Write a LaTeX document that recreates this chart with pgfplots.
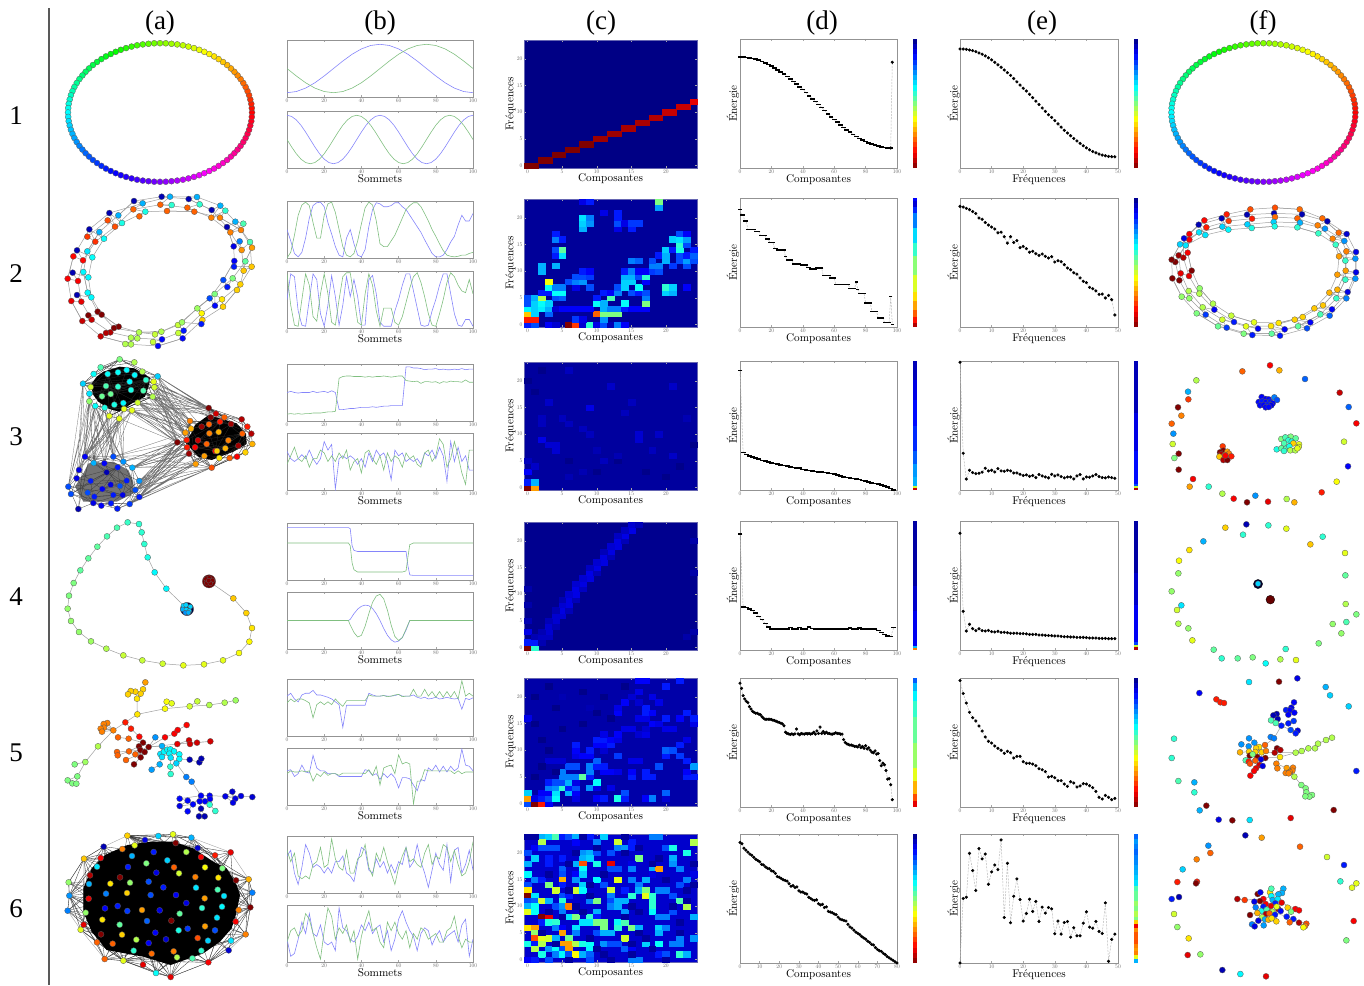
\documentclass[border=0pt]{standalone}
\usepackage{fontspec}
\usepackage{pgfplots}
\usepackage{pgfplotstable}
\pgfplotsset{compat=1.18}
\newfontfamily\tim{Liberation Serif}
\definecolor{sigb}{rgb}{.52,.52,.98}
\definecolor{sigg}{rgb}{.5,.75,.5}
\definecolor{bgA}{rgb}{0,0,.52}
\definecolor{bgB}{rgb}{0,0,.6}
\definecolor{bgC}{rgb}{0,0,.62}
\definecolor{bgD}{rgb}{0,0,.56}
\definecolor{bgE}{rgb}{0,0,.66}
\definecolor{bgF}{rgb}{0,0,.8}
\pgfplotsset{
  colormap={hue}{rgb255=(255,0,0) rgb255=(255,255,0) rgb255=(0,255,0) rgb255=(0,255,255) rgb255=(0,0,255) rgb255=(255,0,255) rgb255=(255,0,0)},
  base/.style={scale only axis,anchor=south west,axis line style={draw=gray!85,line width=.4pt},
    tick align=inside,major tick length=1pt,tick style={gray!70,line width=.15pt},
    tick label style={font=\fontsize{10}{12}\selectfont,scale=.28,text=gray!80!black,inner sep=2.5pt},
    /pgf/number format/assume math mode=true,
    label style={font=\fontsize{10}{12}\selectfont,scale=.56,inner sep=0pt}},
  pos/.style 2 args={at={({#1*0.5pt},{-#2*0.5pt})}},
  colb/.style={base,pos={287}{#1},width=93pt,height=28.5pt,xmin=0,xmax=100,ymin=0,ymax=1,
    xtick={0,20,...,100},ytick=\empty,
    xlabel style={at={(axis description cs:0.5,-0.19)},anchor=center}},
  colc/.style={base,pos={524}{#1},width=86.5pt,height=64pt,xmin=-.5,xmax=24.5,ymin=-.5,ymax=23.5,
    xtick={0,5,...,20},ytick={0,5,...,20},xlabel=Composantes,ylabel=Fréquences,
    colormap/jet,point meta min=0,point meta max=1,axis on top,
    axis line style={draw=black!50!blue!60,line width=.4pt},
    xlabel style={at={(axis description cs:0.5,-0.086)},anchor=center},
    ylabel style={at={(axis description cs:-0.078,0.5)},anchor=center}},
  cold/.style={base,pos={740}{#1},width=78.5pt,height=64.5pt,xmin=0,xmax=100,ymin=0,ymax=1,
    xtick={0,20,...,100},ytick=\empty,xlabel=Composantes,ylabel=Énergie,clip=false,
    xlabel style={at={(axis description cs:0.5,-0.093)},anchor=center},
    ylabel style={at={(axis description cs:-0.045,0.5)},anchor=center}},
  cole/.style={base,pos={960}{#1},width=79pt,height=64.5pt,xmin=0,xmax=50,ymin=0,ymax=1,
    xtick={0,10,...,50},ytick=\empty,xlabel=Fréquences,ylabel=Énergie,clip=false,
    xlabel style={at={(axis description cs:0.5,-0.093)},anchor=center},
    ylabel style={at={(axis description cs:-0.04,0.5)},anchor=center}},
  bar/.style 2 args={at={({#1*0.5pt},{-#2*0.5pt})},anchor=south west,scale only axis,hide axis,
    width=2pt,height=64.5pt,xmin=0,xmax=1,ymin=0,ymax=1,colormap/jet,point meta min=0,point meta max=1},
  % graph panels are typed in the pixel grid of a crop of the figure
  zoomax/.style n args={4}{at={({(#1+#3/2)*0.5pt},{-(#2+#4/2)*0.5pt})},anchor=center,scale only axis,hide axis,clip=false,
    width={#3*0.5pt},height={#4*0.5pt},xmin=0,xmax={#3*3},ymin=0,ymax={#4*3},y dir=reverse,
    colormap/jet,point meta min=0,point meta max=1},
  ringax/.style={at={({#1*0.5pt},-56.25pt)},anchor=center,scale only axis,hide axis,clip=false,
    width=100pt,height=75pt,xmin=-100,xmax=100,ymin=-75,ymax=75,colormap name=hue,point meta min=0,point meta max=1},
  gn/.style={scatter,only marks,mark=*,mark size=1.5pt,point meta=explicit,
    scatter/use mapped color={draw=black!65,fill=mapped color,line width=.15pt}},
  ge/.style={no markers,draw=gray!75,line width=.25pt},
  gk/.style={no markers,draw=black!75,line width=.12pt},
  cell/.style={scatter,only marks,mark=square*,mark size=1.73pt,point meta=explicit,
    mark options={yscale=.77},
    scatter/use mapped color={draw=mapped color,fill=mapped color,line width=.05pt}},
  sb/.style={no markers,draw=sigb,line width=.3pt},
  sg/.style={no markers,draw=sigg,line width=.3pt},
  sp/.style={draw=gray!55,dash pattern=on 1pt off .6pt,line width=.25pt,mark=*,mark size=.65pt,
    mark options={solid,fill=black,draw=black}},
  sq/.style={draw=gray!55,dash pattern=on 1pt off .6pt,line width=.25pt,mark=-,mark size=1.2pt,
    mark options={solid,draw=black,line width=.8pt}},
}
\newcommand\nodes[1]{\addplot[gn] table[x index=0,y index=1,meta index=2,header=false,row sep=\\]{#1};}
\newcommand\cells[1]{\addplot[cell] table[x index=0,y index=1,meta index=2,header=false,row sep=\\]{#1};}
\newcommand\edges[1]{\addplot[ge] coordinates {#1};}
\newcommand\sig[3]{\addplot[#1] table[x expr=#2*\coordindex,y index=0,header=false,row sep=\\]{#3};}
\newcommand\colbar[1]{\addplot[mesh,line width=2pt,point meta=explicit] coordinates {#1};}
% same list of points, joined again taking every k-th one: gives the dense edge bundles
\newcommand\chords[3]{\pgfplotsinvokeforeach{#1}{\addplot[gk,#2,each nth point=##1] coordinates {#3};}}
\newcommand\chtable[3]{\pgfplotsinvokeforeach{#1}{\addplot[gk,#2,each nth point=##1] table[x index=0,y index=1,header=false,row sep=\\]{#3};}}
\pgfplotstableread{
x y m
92 0 0
91.8 4.4 .01
91.3 8.7 .02
90.3 13 .03
89.1 17.3 .04
87.5 21.4 .05
85.6 25.5 .06
83.3 29.5 .07
80.6 33.4 .08
77.6 37.1 .09
74.4 40.7 .10
70.9 44.1 .11
67.1 47.5 .12
63 50.5 .13
58.6 53.4 .14
54.1 56.1 .15
49.3 58.5 .16
44.3 60.7 .17
39.2 62.7 .18
33.9 64.4 .19
28.4 65.9 .20
22.9 67.2 .21
17.2 68.1 .22
11.5 68.7 .23
5.8 69.2 .24
0 69.3 .25
-5.8 69.2 .26
-11.5 68.7 .27
-17.2 68.1 .28
-22.9 67.2 .29
-28.4 65.9 .30
-33.9 64.4 .31
-39.2 62.7 .32
-44.3 60.7 .33
-49.3 58.5 .34
-54.1 56.1 .35
-58.6 53.4 .36
-63 50.5 .37
-67.1 47.5 .38
-70.9 44.1 .39
-74.4 40.7 .40
-77.6 37.1 .41
-80.6 33.4 .42
-83.3 29.5 .43
-85.6 25.5 .44
-87.5 21.4 .45
-89.1 17.3 .46
-90.3 13 .47
-91.3 8.7 .48
-91.8 4.4 .49
-92 0 .50
-91.8 -4.4 .51
-91.3 -8.7 .52
-90.3 -13 .53
-89.1 -17.3 .54
-87.5 -21.4 .55
-85.6 -25.5 .56
-83.3 -29.5 .57
-80.6 -33.4 .58
-77.6 -37.1 .59
-74.4 -40.7 .60
-70.9 -44.1 .61
-67.1 -47.5 .62
-63 -50.5 .63
-58.6 -53.4 .64
-54.1 -56.1 .65
-49.3 -58.5 .66
-44.3 -60.7 .67
-39.2 -62.7 .68
-33.9 -64.4 .69
-28.4 -65.9 .70
-22.9 -67.2 .71
-17.2 -68.1 .72
-11.5 -68.7 .73
-5.8 -69.2 .74
0 -69.3 .75
5.8 -69.2 .76
11.5 -68.7 .77
17.2 -68.1 .78
22.9 -67.2 .79
28.4 -65.9 .80
33.9 -64.4 .81
39.2 -62.7 .82
44.3 -60.7 .83
49.3 -58.5 .84
54.1 -56.1 .85
58.6 -53.4 .86
63 -50.5 .87
67.1 -47.5 .88
70.9 -44.1 .89
74.4 -40.7 .90
77.6 -37.1 .91
80.6 -33.4 .92
83.3 -29.5 .93
85.6 -25.5 .94
87.5 -21.4 .95
89.1 -17.3 .96
90.3 -13 .97
91.3 -8.7 .98
91.8 -4.4 .99
}\ringtable
\newcommand\smoothbar{(.5,0)[1](.5,.04)[.96](.5,.08)[.92](.5,.12)[.88](.5,.16)[.84](.5,.2)[.8](.5,.24)[.76](.5,.28)[.72](.5,.32)[.68](.5,.36)[.64](.5,.4)[.6](.5,.44)[.56](.5,.48)[.52](.5,.52)[.48](.5,.56)[.44](.5,.6)[.4](.5,.64)[.36](.5,.68)[.32](.5,.72)[.28](.5,.76)[.24](.5,.8)[.2](.5,.84)[.16](.5,.88)[.12](.5,.92)[.08](.5,.96)[.04](.5,1)[0]}
\begin{document}
\begin{tikzpicture}
\useasboundingbox (0,0) rectangle (682pt,-492.5pt);
\draw[black!65,line width=.6pt] (24.5pt,-4pt) -- (24.5pt,-492.5pt);
\foreach \t/\x in {(a)/160,(b)/380,(c)/601,(d)/822,(e)/1042,(f)/1263}
  \node[font=\tim\fontsize{13.5}{14}\selectfont,anchor=center] at ({\x*0.5pt},-11.5pt) {\t};
\foreach \t/\y in {1/116,2/274,3/437,4/597,5/753,6/909}
  \node[font=\tim\fontsize{13.5}{14}\selectfont,anchor=center] at (8pt,{-\y*0.5pt}) {\t};

% ---- column a/f, row 1: rings
\begin{axis}[ringax=160]
\addplot[ge] table[x=x,y=y]{\ringtable};
\addplot[gn] table[x=x,y=y,meta=m]{\ringtable};
\end{axis}
\begin{axis}[ringax=1263.4]
\addplot[ge] table[x=x,y=y]{\ringtable};
\addplot[gn] table[x=x,y=y,meta=m]{\ringtable};
\end{axis}

% ---- column a, rows 2 and 3
\begin{axis}[zoomax={50}{185}{440}{330}]
\edges{(335,35)(416,42)(485,75)(531,126)(551,184)(553,228)(520,285)(479,340)(442,370)(384,420)(315,448)(267,442)(206,425)(143,380)(113,323)(100,261)(112,199)(148,141)(205,91)(252,48)(335,35)}
\edges{(360,35)(441,36)(511,62)(556,110)(600,171)(605,245)(561,315)(519,365)(457,405)(398,460)(324,483)(243,478)(152,454)(97,408)(64,348)(53,281)(70,214)(118,133)(178,84)(278,55)(360,35)}
\edges{(331,59)(412,68)(484,98)(541,142)(575,195)(581,257)(571,298)(516,343)(455,385)(401,437)(336,463)(262,460)(181,442)(125,404)(94,350)(84,288)(99,226)(136,170)(195,125)(250,73)(331,59)}
\edges{(351,78)(433,80)(510,98)(573,135)(606,188)(586,229)(548,280)(494,327)(442,370)(396,412)(334,440)(267,442)(192,429)(155,389)(124,337)(115,277)(127,217)(162,161)(216,114)(286,80)(351,78)}
\edges{(335,35)(360,35)(331,59)(365,60)(351,78)(433,80)(412,68)(449,58)(441,36)(416,42)(485,75)(511,62)(484,98)(526,77)(510,98)(573,135)(541,142)(580,116)(556,110)(531,126)(551,184)(569,169)(575,195)(600,171)(606,188)(586,229)(581,257)(605,245)(552,245)(553,228)(520,285)(532,306)(548,280)(571,298)(561,315)(519,365)(516,343)(494,327)(495,362)(479,340)(442,370)(455,385)(457,405)(454,417)(396,412)(384,420)(401,437)(385,444)(398,460)(324,483)(336,463)(309,471)(315,448)(334,440)(267,442)(243,458)(262,460)(226,477)(243,478)(152,454)(168,444)(181,442)(192,429)(206,425)(143,380)(155,389)(115,391)(125,404)(97,408)(64,348)(94,350)(81,330)(124,337)(113,323)(100,261)(115,277)(68,263)(84,288)(53,281)(70,214)(99,226)(81,196)(127,217)(112,199)(148,141)(162,161)(118,133)(136,170)(112,155)(173,106)(195,125)(178,84)(216,114)(205,91)(252,48)(278,55)(250,73)(286,80)(268,94)}
\nodes{335 35 .05\\360 35 .3\\331 59 .78\\365 60 .42\\351 78 .78\\416 42 .05\\441 36 .3\\412 68 .78\\449 58 .42\\433 80 .78\\485 75 .05\\511 62 .3\\484 98 .75\\526 77 .42\\510 98 .75\\531 126 .05\\556 110 .3\\541 142 .75\\580 116 .45\\573 135 .75\\551 184 .1\\569 169 .25\\575 195 .73\\600 171 .45\\606 188 .72\\553 228 .12\\552 245 .15\\586 229 .47\\581 257 .68\\605 245 .68\\520 285 .2\\532 306 .15\\548 280 .5\\571 298 .67\\561 315 .67\\479 340 .2\\495 362 .13\\494 327 .5\\516 343 .65\\519 365 .67\\442 370 .53\\455 385 .63\\457 405 .67\\454 417 .15\\384 420 .57\\396 412 .53\\401 437 .15\\385 444 .57\\398 460 .13\\315 448 .57\\334 440 .55\\336 463 .13\\309 471 .57\\324 483 .13\\267 442 .55\\243 458 .55\\262 460 .55\\226 477 .55\\243 478 .55\\206 425 1\\192 429 1\\181 442 .95\\168 444 .95\\152 454 .93\\143 380 1\\155 389 1\\115 391 1\\125 404 .93\\97 408 .93\\113 323 .37\\124 337 .37\\81 330 .05\\94 350 .9\\64 348 .9\\100 261 .37\\115 277 .37\\68 263 .05\\84 288 .88\\53 281 .88\\112 199 .35\\127 217 .38\\81 196 .05\\99 226 .87\\70 214 .87\\148 141 .3\\162 161 .38\\118 133 .05\\136 170 .83\\112 155 .82\\205 91 .3\\216 114 .4\\178 84 .05\\195 125 .8\\173 106 .8\\252 48 .05\\278 55 .3\\250 73 .78\\286 80 .4\\268 94 .78\\}
% row 3: the three clusters and what runs between them
\chords{1,3,5,7}{line width=.15pt,draw=black!55}{(323,574)(476,669)(311,590)(498,686)(313,607)(420,708)(308,635)(406,743)(280,617)(455,725)(323,574)(523,697)(263,653)(382,772)(246,676)(410,765)(288,585)(423,731)(222,672)(382,772)(311,590)(476,669)(280,617)(420,708)(308,635)(382,772)(243,615)(406,743)(263,653)(423,731)(246,676)(382,772)(208,701)(382,772)(313,607)(498,686)(323,574)(406,743)(288,585)(476,669)(313,607)(482,697)(308,635)(420,708)(311,590)(423,731)(280,617)(411,787)(263,653)(406,743)}
\chords{1,3,5,7}{line width=.15pt,draw=black!55}{(247,848)(382,772)(220,830)(411,787)(268,888)(417,806)(256,915)(437,837)(268,936)(463,813)(239,957)(485,848)(268,888)(382,772)(247,848)(410,765)(220,830)(382,772)(256,915)(411,787)(268,936)(417,806)(247,848)(406,743)(190,815)(382,772)(268,888)(437,837)(239,957)(437,837)(256,915)(485,848)(202,971)(485,848)(268,936)(382,772)(247,848)(411,787)(268,888)(410,765)(256,915)(417,806)(268,936)(437,837)}
\chords{1,3,5}{line width=.15pt,draw=black!55}{(99,596)(80,880)(118,649)(105,815)(136,663)(87,855)(164,668)(131,834)(178,693)(190,815)(208,701)(220,830)(193,659)(105,815)(222,672)(163,835)(118,626)(55,905)(118,649)(85,972)(156,634)(131,834)(208,701)(105,815)(246,676)(190,815)(178,693)(87,855)(164,668)(190,815)(136,663)(131,834)(222,672)(220,830)(99,596)(55,905)(118,649)(131,834)(136,663)(105,815)(178,693)(163,835)(208,701)(190,815)(164,668)(105,815)}
\addplot[fill=black,draw=none] coordinates {(209,545)(253,550)(300,578)(295,607)(285,635)(246,655)(208,680)(178,672)(145,650)(130,630)(122,600)(140,575)(160,560)};
\addplot[fill=black,draw=none] coordinates {(476,690)(560,715)(588,746)(590,777)(550,800)(485,825)(445,815)(405,772)(425,743)(435,720)};
\addplot[fill=black,draw=none,opacity=.55] coordinates {(115,835)(190,830)(235,855)(250,890)(250,925)(200,950)(100,950)(75,905)(100,865)};
\chtable{1,2,3,4,5,6,7}{line width=.15pt,draw=black!85}{209 523\\253 532\\152 547\\131 567\\277 560\\323 574\\99 596\\122 606\\311 590\\313 607\\118 626\\118 649\\156 634\\182 627\\168 603\\204 605\\239 590\\243 615\\288 585\\280 617\\308 635\\263 653\\220 654\\246 676\\222 672\\193 659\\164 668\\136 663\\178 693\\208 701\\173 567\\204 562\\230 555\\254 570\\}
\chtable{1,2,3,4,5,6,7}{line width=.15pt,draw=black!85}{476 669\\523 697\\498 686\\482 697\\575 703\\592 725\\604 746\\607 777\\586 802\\561 815\\539 819\\508 819\\485 848\\463 813\\437 837\\417 806\\411 787\\382 772\\410 765\\406 743\\420 708\\423 731\\455 725\\477 718\\510 710\\543 717\\506 741\\478 745\\444 766\\470 777\\496 798\\535 766\\577 746\\565 782\\501 798\\526 790\\435 787\\}
\chtable{1,2,3,4,5,6,7}{line width=.15pt,draw=black!75}{105 815\\131 834\\190 815\\220 830\\247 848\\268 888\\256 915\\268 936\\239 957\\202 971\\183 955\\154 962\\130 954\\85 972\\55 905\\63 927\\80 880\\87 855\\122 888\\170 862\\203 847\\230 887\\210 903\\182 899\\157 912\\113 923\\133 935\\190 930\\218 930\\163 835\\}
\nodes{209 523 .5\\253 532 .55\\152 547 .45\\131 567 .38\\277 560 .55\\323 574 .33\\99 596 .33\\122 606 .58\\311 590 .6\\313 607 .58\\118 626 .35\\118 649 .52\\156 634 .48\\182 627 .48\\168 603 .45\\204 605 .42\\239 590 .37\\243 615 .4\\288 585 .42\\280 617 .45\\308 635 .55\\263 653 .58\\220 654 .37\\246 676 .6\\222 672 .6\\193 659 .4\\164 668 .4\\136 663 .38\\178 693 .6\\208 701 .6\\173 567 .38\\204 562 .38\\230 555 .37\\254 570 .37\\}
\nodes{476 669 1\\523 697 .78\\498 686 .92\\482 697 1\\575 703 .95\\592 725 .85\\604 746 .95\\607 777 .7\\586 802 .67\\561 815 .88\\539 819 .78\\508 819 .65\\485 848 .8\\463 813 .72\\437 837 .72\\417 806 .97\\411 787 .85\\382 772 1\\410 765 .85\\406 743 .72\\420 708 .75\\423 731 .7\\455 725 .98\\477 718 .78\\510 710 .85\\543 717 .97\\506 741 .7\\478 745 .75\\444 766 .93\\470 777 .78\\496 798 .88\\535 766 .75\\577 746 .78\\565 782 .97\\501 798 .67\\526 790 .7\\435 787 .88\\}
\nodes{105 815 .12\\131 834 .3\\190 815 .2\\220 830 .27\\247 848 .3\\268 888 .27\\256 915 .2\\268 936 .15\\239 957 .18\\202 971 .15\\183 955 .15\\154 962 .12\\130 954 .1\\85 972 .05\\55 905 .2\\63 927 .2\\80 880 .1\\87 855 .1\\122 888 .15\\170 862 .05\\203 847 .15\\230 887 .15\\210 903 .2\\182 899 .1\\157 912 .12\\113 923 .2\\133 935 .15\\190 930 .15\\218 930 .1\\163 835 .12\\}
\end{axis}

% ---- column a, rows 4 and 5
\begin{axis}[zoomax={50}{515}{440}{310}]
\edges{(411,281)(349,221)(314,172)(293,127)(283,87)(275,52)(267,27)(233,22)(201,38)(171,64)(142,95)(115,130)(91,166)(71,204)(57,242)(53,281)(63,318)(87,351)(123,379)(169,401)(220,421)(277,436)(338,446)(400,451)(462,448)(519,436)(567,414)(598,380)(606,339)(589,294)(550,250)(477,199)}
\addplot[only marks,mark=*,mark size=3.3pt,mark options={fill=black!75!blue,draw=black!70,line width=.15pt}] coordinates {(411,282)};
\addplot[only marks,mark=*,mark size=3.3pt,mark options={fill=red!45!black,draw=black!70,line width=.15pt}] coordinates {(477,199)};
\nodes{349 221 .37\\314 172 .37\\293 127 .4\\283 87 .42\\275 52 .42\\267 27 .42\\233 22 .43\\201 38 .45\\171 64 .45\\142 95 .47\\115 130 .47\\91 166 .47\\71 204 .5\\57 242 .5\\53 281 .52\\63 318 .52\\87 351 .52\\123 379 .53\\169 401 .55\\220 421 .57\\277 436 .57\\338 446 .58\\400 451 .6\\462 448 .6\\519 436 .6\\567 414 .62\\598 380 .63\\606 339 .65\\589 294 .67\\550 250 .68\\}
\addplot[gn,mark size=1.2pt] table[x index=0,y index=1,meta index=2,header=false,row sep=\\]{400 272 .33\\408 270 .33\\421 275 .33\\398 283 .3\\409 284 .33\\418 288 .33\\406 293 .27\\415 293 .3\\468 192 1\\478 189 1\\487 196 1\\470 204 1\\481 205 1\\476 197 1\\};
% tree
\edges{(286,502)(279,523)(261,551)(262,598)(345,581)(419,574)(478,570)(524,563)(557,556)}
\edges{(234,538)(242,528)(256,530)(261,551)(272,536)}
\edges{(345,581)(350,560)(365,565)}\edges{(419,574)(442,559)}
\edges{(262,598)(226,622)(190,646)(144,694)(106,741)(82,784)(53,796)(67,805)(79,806)(82,784)}
\edges{(106,741)(74,748)}\edges{(190,646)(172,624)(161,627)(190,646)(162,638)(152,641)(190,646)(156,650)}
\edges{(226,622)(243,641)(268,665)(279,683)(296,696)(336,693)(358,716)(379,745)(409,786)(425,800)(453,842)(479,842)(526,844)(547,830)(556,851)(526,844)(573,843)(607,846)}
\edges{(204,667)(236,671)(279,683)(267,694)(237,709)(201,711)(203,721)(237,709)(271,705)(296,696)(284,711)(272,727)(252,748)}
\edges{(256,718)(284,711)(228,735)}
\edges{(296,696)(316,667)(296,696)(345,667)(373,656)(383,645)(410,630)}
\edges{(296,696)(382,687)(417,676)(420,687)(441,683)(481,679)(382,687)}
\edges{(336,693)(331,717)(342,710)(352,704)(361,703)(372,709)(358,716)(388,718)(388,732)(419,734)(448,742)(454,731)}
\edges{(358,716)(336,726)(329,748)(305,764)}\edges{(362,728)(361,755)(362,777)}
\edges{(453,842)(429,868)(389,873)(413,857)(389,851)(453,842)(449,859)(453,881)(447,904)(464,904)(453,881)}
\edges{(453,842)(465,859)(479,869)(496,888)}\edges{(429,868)(413,889)}\edges{(480,852)(479,842)}\edges{(547,830)(549,863)(526,844)}
\nodes{286 502 .72\\279 523 .67\\272 536 .67\\256 530 .67\\242 528 .67\\234 538 .67\\261 551 .65\\262 598 .65\\345 581 .62\\350 560 .62\\365 565 .6\\419 574 .58\\442 559 .57\\478 570 .55\\524 563 .55\\557 556 .53\\226 622 .85\\190 646 .75\\172 624 .75\\161 627 .75\\162 638 .75\\152 641 .75\\156 650 .75\\243 641 .85\\204 667 .78\\236 671 .78\\268 665 .87\\144 694 .55\\106 741 .53\\74 748 .5\\82 784 .5\\53 796 .5\\67 805 .5\\79 806 .5\\279 683 1\\267 694 1\\296 696 1\\271 705 1\\284 711 1\\272 727 1\\252 748 1\\201 711 .78\\203 721 .78\\237 709 .78\\256 718 .78\\228 735 .78\\316 667 .27\\345 667 .88\\373 656 .88\\383 645 .88\\410 630 .87\\382 687 .9\\417 676 .92\\420 687 .92\\441 683 .92\\481 679 .92\\336 693 .3\\331 717 .35\\342 710 .37\\352 704 .37\\361 703 .37\\372 709 .37\\358 716 .37\\388 718 .37\\388 732 .37\\336 726 .35\\362 728 .35\\379 745 .33\\329 748 .3\\305 764 .28\\361 755 .42\\362 777 .42\\419 734 .05\\448 742 .05\\454 731 .05\\409 786 .25\\425 800 .25\\453 842 .12\\479 842 .12\\526 844 .1\\547 830 .08\\573 843 .1\\607 846 .08\\556 851 .1\\549 863 .1\\389 851 .13\\413 857 .13\\449 859 .12\\465 859 .12\\480 852 .12\\429 868 .13\\389 873 .1\\413 889 .13\\453 881 .05\\479 869 .42\\496 888 .42\\447 904 .05\\464 904 .05\\}
\end{axis}

% ---- column a, row 6
\begin{axis}[zoomax={50}{825}{440}{160}]
\addplot[gk,draw=gray!70,line width=.2pt] coordinates {(232,32)(325,33)(369,28)(424,38)(542,82)(596,163)(607,203)(601,247)(587,328)(536,376)(475,412)(362,456)(318,444)(220,407)(164,402)(92,314)(53,257)(58,212)(56,172)(102,101)(161,65)(232,32)};
\chtable{1,2,3,4,5,6,7,8,9,10,11,12,13}{line width=.15pt,draw=black!85}{232 32\\285 45\\325 33\\369 28\\424 38\\443 69\\495 91\\542 82\\517 130\\558 166\\596 163\\607 203\\601 247\\566 255\\557 290\\587 328\\543 347\\536 376\\475 412\\427 400\\381 397\\362 456\\318 444\\279 419\\220 407\\164 402\\141 352\\92 314\\101 299\\53 257\\58 212\\56 172\\102 101\\161 65\\217 72\\254 61\\152 99\\141 125\\120 151\\117 177\\116 221\\107 263\\157 284\\153 328\\188 356\\251 377\\305 386\\371 379\\454 377\\474 347\\443 339\\495 316\\501 278\\516 245\\522 213\\503 194\\505 158\\465 127\\453 96\\409 81\\377 54\\311 81\\246 93\\289 115\\352 106\\372 127\\234 126\\319 143\\387 145\\436 156\\210 157\\240 173\\296 170\\181 176\\340 187\\438 188\\168 206\\231 204\\302 210\\378 210\\464 220\\165 250\\203 243\\232 258\\276 255\\329 256\\409 234\\456 249\\389 266\\291 288\\364 287\\465 304\\413 311\\386 316\\209 299\\216 329\\316 323\\259 344\\348 343\\296 354\\}
\addplot[gk,draw=black!70,line width=.15pt] coordinates {(56,172)(160,200)(58,212)(150,170)(53,257)(160,230)(56,172)(140,240)(58,212)(170,270)(53,257)(130,200)(92,314)(160,250)(101,299)(180,300)(92,314)(180,340)(53,257)(150,290)(164,402)(200,330)(141,352)(220,300)(164,402)(240,360)(220,407)(260,340)(164,402)(280,380)(279,419)(250,340)(220,407)(310,370)(318,444)(290,360)(362,456)(330,370)(318,444)(360,380)(362,456)(300,380)(318,444)(400,380)(362,456)(420,370)(475,412)(400,360)(427,400)(450,340)(475,412)(500,340)(536,376)(470,330)(587,328)(500,300)(601,247)(530,260)(587,328)(520,300)(607,203)(520,230)(596,163)(520,210)(607,203)(510,170)(601,247)(500,220)(596,163)(480,180)(542,82)(490,160)(495,91)(470,150)(542,82)(450,130)(424,38)(430,110)(369,28)(410,110)(424,38)(380,90)(325,33)(360,90)(369,28)(300,90)(232,32)(330,80)(285,45)(250,90)(232,32)(220,100)(161,65)(240,110)(102,101)(180,140)(161,65)(210,130)(102,101)(160,170)(56,172)};
\addplot[fill=black,draw=none] coordinates {(232,60)(300,50)(369,50)(430,70)(490,110)(530,130)(560,180)(570,210)(560,260)(545,310)(510,350)(460,385)(362,420)(280,395)(170,375)(125,320)(100,260)(100,190)(125,130)(165,90)};
\nodes{232 32 .67\\285 45 .1\\325 33 .33\\369 28 .6\\424 38 .3\\443 69 .08\\495 91 .85\\542 82 .9\\517 130 .5\\558 166 1\\596 163 .7\\607 203 .25\\601 247 1\\566 255 .75\\557 290 .88\\587 328 .75\\543 347 .35\\536 376 .08\\475 412 .88\\427 400 .45\\381 397 .55\\362 456 .9\\318 444 .38\\279 419 .9\\220 407 .6\\164 402 .78\\141 352 .78\\92 314 .6\\101 299 .9\\53 257 .25\\58 212 .27\\56 172 .52\\102 101 .68\\161 65 .05\\217 72 .75\\254 61 .6\\152 99 .88\\141 125 .35\\120 151 .95\\117 177 .3\\116 221 .9\\107 263 .52\\157 284 .65\\153 328 1\\188 356 .78\\251 377 .42\\305 386 .77\\371 379 .75\\454 377 .42\\474 347 .33\\443 339 .8\\495 316 .2\\501 278 .35\\516 245 .37\\522 213 .35\\503 194 .45\\505 158 .65\\465 127 .62\\453 96 .88\\409 81 .55\\377 54 1\\311 81 .15\\246 93 .3\\289 115 .5\\352 106 .33\\372 127 .78\\234 126 .15\\319 143 .1\\387 145 .58\\436 156 .75\\210 157 1\\240 173 .52\\296 170 .2\\181 176 .65\\340 187 .15\\438 188 .35\\168 206 .25\\231 204 .67\\302 210 .2\\378 210 .12\\464 220 .72\\165 250 .12\\203 243 .15\\232 258 .18\\276 255 .72\\329 256 .1\\409 234 .1\\456 249 .42\\389 266 .47\\291 288 .22\\364 287 1\\465 304 .72\\413 311 .18\\386 316 .4\\209 299 .47\\216 329 .67\\316 323 .12\\259 344 .55\\348 343 .08\\296 354 .12\\}
\end{axis}

% ---- column f, rows 2 and 3
\begin{axis}[zoomax={930}{185}{434}{330}]
\edges{(961,73)(1035,68)(1109,73)(1177,100)(1226,143)(1249,199)(1247,257)(1222,314)(1179,361)(1118,396)(1046,414)(972,412)(904,392)(849,356)(809,310)(785,257)(773,203)(778,147)(823,106)(890,88)(961,73)}
\edges{(951,89)(1032,85)(1116,88)(1192,109)(1250,147)(1278,201)(1278,262)(1253,321)(1206,373)(1141,412)(1064,433)(984,431)(912,411)(853,374)(808,326)(777,273)(760,218)(762,160)(806,119)(875,100)(951,89)}
\edges{(966,101)(1035,96)(1102,100)(1163,121)(1208,161)(1227,214)(1222,269)(1198,323)(1153,370)(1094,404)(1023,423)(948,424)(877,404)(818,367)(776,318)(752,265)(746,211)(778,164)(829,127)(896,108)(966,101)}
\edges{(952,118)(1031,111)(1110,113)(1185,131)(1243,168)(1276,221)(1276,281)(1249,340)(1199,392)(1131,430)(1050,452)(967,450)(890,428)(827,389)(778,340)(748,286)(736,231)(767,181)(826,150)(895,134)(965,129)(1034,124)(1102,127)(1165,145)(1217,179)(1246,227)(1246,284)(1219,340)(1171,388)(1104,424)(1025,446)(941,446)(864,424)(800,385)(755,335)(727,280)(725,224)(750,178)(807,142)(877,125)(952,118)}
\edges{(961,73)(951,89)(966,101)(952,118)(965,129)(1034,124)(1031,111)(1035,96)(1032,85)(1035,68)(1109,73)(1116,88)(1102,100)(1110,113)(1102,127)(1165,145)(1185,131)(1163,121)(1192,109)(1177,100)(1226,143)(1250,147)(1208,161)(1243,168)(1217,179)(1246,227)(1276,221)(1227,214)(1278,201)(1249,199)(1247,257)(1278,262)(1222,269)(1276,281)(1246,284)(1219,340)(1249,340)(1198,323)(1253,321)(1222,314)(1179,361)(1206,373)(1153,370)(1199,392)(1171,388)(1104,424)(1131,430)(1094,404)(1141,412)(1118,396)(1046,414)(1064,433)(1023,423)(1050,452)(1025,446)(941,446)(967,450)(948,424)(984,431)(972,412)(904,392)(912,411)(877,404)(890,428)(864,424)(800,385)(827,389)(818,367)(853,374)(849,356)(809,310)(808,326)(776,318)(778,340)(755,335)(727,280)(748,286)(752,265)(777,273)(785,257)(773,203)(760,218)(746,211)(736,231)(725,224)(750,178)(767,181)(762,160)(778,164)(778,147)(823,106)(829,127)(806,119)(826,150)(807,142)(877,125)(895,134)(875,100)(896,108)(890,88)}
\nodes{961 73 .8\\951 89 .05\\966 101 .85\\952 118 .33\\965 129 .4\\1035 68 .8\\1032 85 .05\\1035 96 .77\\1031 111 .33\\1034 124 .4\\1109 73 .77\\1116 88 .05\\1102 100 .78\\1110 113 .3\\1102 127 .42\\1177 100 .77\\1192 109 .05\\1163 121 .75\\1185 131 .27\\1165 145 .43\\1226 143 .77\\1250 147 .08\\1208 161 .75\\1243 168 .27\\1217 179 .43\\1249 199 .75\\1278 201 .1\\1227 214 .72\\1276 221 .27\\1246 227 .43\\1247 257 .72\\1278 262 .1\\1222 269 .72\\1276 281 .27\\1246 284 .43\\1222 314 .7\\1253 321 .1\\1198 323 .7\\1249 340 .25\\1219 340 .43\\1179 361 .68\\1206 373 .12\\1153 370 .68\\1199 392 .22\\1171 388 .45\\1118 396 .67\\1141 412 .12\\1094 404 .67\\1131 430 .2\\1104 424 .47\\1046 414 .65\\1064 433 .12\\1023 423 .65\\1050 452 .15\\1025 446 .47\\972 412 .6\\984 431 .12\\948 424 .6\\967 450 .15\\941 446 .5\\904 392 .57\\912 411 .15\\877 404 .58\\890 428 .18\\864 424 .48\\849 356 .55\\853 374 .12\\818 367 .55\\827 389 .18\\800 385 .5\\809 310 .52\\808 326 .55\\776 318 .55\\778 340 .52\\755 335 .52\\785 257 1\\777 273 .9\\752 265 .9\\748 286 1\\727 280 1\\773 203 .88\\760 218 .95\\746 211 .97\\736 231 1\\725 224 1\\778 147 .88\\778 164 .88\\762 160 .1\\767 181 .35\\750 178 .33\\823 106 .87\\829 127 .85\\806 119 .05\\826 150 .35\\807 142 .35\\890 88 .85\\896 108 .82\\875 100 .05\\895 134 .37\\877 125 .33\\}
\nodes{1020 541 .88\\1048 556 .7\\937 559 .78\\1125 582 .22\\799 586 .55\\1229 623 .93\\774 620 .3\\775 643 .82\\1256 666 .22\\744 667 1\\754 692 .75\\725 716 .78\\1279 715 .88\\730 746 .27\\1242 770 .58\\728 777 .58\\746 806 1\\733 819 .5\\746 854 1\\1254 844 .12\\789 882 .88\\1220 890 .62\\779 905 .72\\836 905 .42\\1175 922 .85\\877 926 .55\\976 932 .27\\911 941 .88\\1070 942 .55\\1014 950 .9\\951 952 1\\1093 952 .7\\}
\nodes{995 636 .12\\1033 637 .25\\1041 645 .2\\1007 642 .12\\1016 643 .13\\986 651 .13\\997 649 .15\\1008 652 .13\\1020 650 .15\\1028 655 .12\\990 661 .13\\1001 660 .12\\1013 659 .15\\1024 661 .1\\1007 667 .12\\1016 666 .13\\}
\nodes{1054 762 .5\\1082 755 .5\\1097 760 .47\\1066 757 .45\\1075 766 .42\\1062 775 .45\\1085 770 .4\\1090 775 .67\\1107 778 .6\\1106 786 .6\\1040 793 .4\\1054 790 .47\\1068 791 .45\\1078 784 .4\\1062 798 .42\\1081 796 .55\\1096 796 .55\\1102 790 .6\\}
\nodes{878 784 .82\\880 797 1\\892 800 .72\\870 802 1\\897 806 .75\\873 808 .95\\885 810 .75\\904 814 .85\\868 815 .68\\880 825 .95\\892 825 1\\886 812 .88\\}
\end{axis}

% ---- column f, rows 4 and 5
\begin{axis}[zoomax={930}{515}{434}{310}]
\nodes{949 28 .05\\886 38 .67\\1015 31 .42\\1069 41 .6\\939 59 .42\\1178 65 .42\\820 79 .3\\1141 88 .68\\778 105 .65\\1245 114 .6\\747 137 .62\\745 175 .52\\1246 181 .47\\725 229 .52\\1247 267 .55\\754 271 .35\\741 285 .58\\1279 298 .5\\745 326 .55\\1249 321 .45\\1208 327 .52\\775 340 .52\\1234 355 .52\\787 376 .6\\1166 385 .5\\851 404 .47\\1067 402 .42\\875 430 .42\\923 430 .47\\968 427 .5\\1007 445 .38\\1051 433 .55\\1098 435 .6\\}
\addplot[only marks,mark=*,mark size=2.3pt,mark options={fill=black!80!blue,draw=black,line width=.15pt}] coordinates {(984,207)};
\addplot[only marks,mark=*,mark size=2.2pt,mark options={fill=red!40!black,draw=black,line width=.15pt}] coordinates {(1021,254)};
\addplot[gn,mark size=1.4pt] table[x index=0,y index=1,meta index=2,header=false,row sep=\\]{984 206 .33\\};
\edges{(1054,632)(1075,625)(1091,618)}\edges{(1054,632)(1082,645)(1103,647)}\edges{(1054,632)(1037,624)(1023,616)}\edges{(1054,632)(1032,670)(1005,690)}
\edges{(1206,668)(1188,675)(1164,686)(1155,700)(1135,700)(1115,708)(1097,713)(1050,726)(1006,729)(982,726)(960,746)}
\edges{(1097,713)(1034,713)(995,712)(957,710)(930,712)}
\edges{(1050,726)(1039,746)(1070,759)(1093,785)(1114,810)(1129,832)(1146,840)}
\edges{(1006,729)(988,750)(972,768)(961,782)}
\edges{(987,696)(982,726)(956,740)}
\nodes{957 501 .35\\1047 500 1\\1102 490 .1\\1187 516 .3\\1200 541 .33\\1256 574 .33\\808 534 .12\\859 553 .85\\871 562 .85\\882 564 .85\\732 671 .42\\725 729 .42\\1279 768 .15\\745 798 .45\\793 802 .3\\793 832 .42\\829 872 1\\809 886 .3\\1211 885 1\\866 914 .1\\907 916 1\\959 915 .35\\1082 909 .9\\1092 562 .12\\1084 578 .1\\1068 585 .15\\1080 586 .12\\1093 593 .12\\1040 597 .05\\1030 601 .05\\1075 599 .12\\1043 612 .05\\1023 616 .45\\1037 624 .45\\1091 618 .18\\1075 625 .15\\1054 632 .15\\1082 645 .2\\1103 647 .1\\1097 655 .15\\1022 666 .25\\1032 670 .25\\1206 668 .55\\1188 675 .55\\1164 686 .55\\1155 700 .55\\1135 700 .55\\1115 708 .55\\1097 713 .55\\957 670 .27\\973 683 .27\\934 688 .27\\956 694 .27\\1005 690 .78\\987 696 .65\\978 700 .67\\995 712 .67\\976 711 .67\\957 710 .67\\930 712 .7\\1008 708 .75\\1041 700 1\\1051 705 .95\\1034 713 .95\\1050 726 .65\\1006 729 1\\982 726 1\\959 722 1\\968 718 .5\\993 733 .1\\947 736 .45\\956 740 .85\\976 737 .78\\960 746 .8\\988 750 .92\\998 753 .1\\978 760 .9\\972 768 .88\\961 782 .88\\1039 746 .75\\1042 760 .75\\1070 759 .72\\1089 758 .75\\1087 767 .75\\1079 771 .75\\1067 774 .75\\1076 775 .75\\1093 785 .55\\1114 810 .5\\1127 820 .5\\1129 832 .5\\1146 840 .5\\1138 845 .5\\1126 844 .5\\}
\end{axis}

% ---- column f, row 6
\begin{axis}[zoomax={930}{825}{434}{160}]
\edges{(922,222)(944,225)(1000,222)(1024,213)(1060,191)}\edges{(973,230)(1007,237)(1055,233)(1107,256)}\edges{(960,270)(1010,254)(1070,275)(1129,296)}\edges{(1024,191)(1028,225)(1040,245)(1039,289)}\edges{(966,298)(996,277)(1045,252)}
\nodes{946 31 .05\\995 38 .72\\835 62 .27\\1110 65 .78\\841 84 .78\\1191 96 .58\\800 103 .75\\1242 120 .15\\758 133 .33\\1231 169 .42\\742 171 .85\\801 170 .85\\798 175 1\\1279 175 .6\\1266 188 .6\\725 222 .15\\747 216 .05\\732 267 .58\\1271 288 .88\\742 306 .52\\1249 346 .5\\776 340 .65\\773 390 .9\\811 388 .52\\877 435 .05\\931 447 .37\\1008 454 .9\\922 222 .95\\944 225 .82\\983 207 1\\991 202 .1\\1020 202 .65\\1024 191 .45\\1060 191 .3\\1056 204 .3\\1045 208 .3\\1024 213 .37\\1028 225 .3\\1043 222 .35\\1000 222 .88\\973 230 .1\\990 228 1\\1007 237 .88\\1036 235 .15\\1055 233 .9\\977 247 .25\\1000 245 .15\\1023 243 .9\\1045 252 .95\\1040 245 .6\\1073 248 .67\\1096 252 .88\\1107 256 .88\\1083 260 .5\\994 258 .4\\1010 254 .45\\1027 260 .55\\1052 258 .12\\982 264 .7\\1008 267 .95\\1018 265 .78\\1035 269 .15\\1070 275 .15\\960 270 1\\996 277 .55\\1005 283 .3\\1015 284 .7\\1025 280 .65\\1090 282 .15\\985 287 .1\\1039 289 .67\\1079 292 .78\\1107 293 .95\\966 298 .25\\974 304 .1\\1001 301 .28\\1129 296 .8\\1125 303 .75\\1120 307 .62\\}
\end{axis}

% ---- column b
\begin{axis}[colb=97]
\sig{sb}{5}{.075\\.096\\.156\\.25\\.369\\.5\\.631\\.75\\.844\\.904\\.925\\.904\\.844\\.75\\.631\\.5\\.369\\.25\\.156\\.096\\.075\\}
\sig{sg}{5}{.5\\.369\\.25\\.156\\.096\\.075\\.096\\.156\\.25\\.369\\.5\\.631\\.75\\.844\\.904\\.925\\.904\\.844\\.75\\.631\\.5\\}
\end{axis}
\begin{axis}[colb=168,xlabel=Sommets]
\sig{sb}{2.5}{.925\\.904\\.844\\.75\\.631\\.5\\.369\\.25\\.156\\.096\\.075\\.096\\.156\\.25\\.369\\.5\\.631\\.75\\.844\\.904\\.925\\.904\\.844\\.75\\.631\\.5\\.369\\.25\\.156\\.096\\.075\\.096\\.156\\.25\\.369\\.5\\.631\\.75\\.844\\.904\\.925\\}
\sig{sg}{2.5}{.5\\.369\\.25\\.156\\.096\\.075\\.096\\.156\\.25\\.369\\.5\\.631\\.75\\.844\\.904\\.925\\.904\\.844\\.75\\.631\\.5\\.369\\.25\\.156\\.096\\.075\\.096\\.156\\.25\\.369\\.5\\.631\\.75\\.844\\.904\\.925\\.904\\.844\\.75\\.631\\.5\\}
\end{axis}
\begin{axis}[colb=258]
\sig{sb}{2}{.5\\.3\\.08\\.02\\.1\\.35\\.7\\.92\\.97\\.98\\.9\\.62\\.42\\.2\\.05\\.02\\.35\\.5\\.25\\.05\\.02\\.15\\.55\\.85\\.97\\.95\\.9\\.9\\.92\\.97\\.97\\.9\\.85\\.75\\.65\\.55\\.45\\.32\\.2\\.08\\.02\\.02\\.05\\.15\\.28\\.38\\.58\\.75\\.65\\.65\\.78\\}
\sig{sg}{2}{0\\.1\\.4\\.75\\.93\\.98\\.92\\.62\\.35\\.35\\.75\\.95\\.98\\.8\\.5\\.2\\.05\\.02\\.08\\.3\\.6\\.88\\.98\\.93\\.65\\.25\\.2\\.2\\.3\\.4\\.55\\.7\\.85\\.92\\.97\\.97\\.9\\.78\\.65\\.5\\.38\\.25\\.13\\.05\\.03\\.02\\.03\\.05\\.05\\.08\\.1\\}
\end{axis}
\begin{axis}[colb=328,xlabel=Sommets]
\sig{sb}{2}{.5\\.95\\.9\\.3\\.05\\.03\\.5\\.95\\.85\\.25\\.03\\.4\\.92\\.55\\.05\\.4\\.9\\.55\\.85\\.55\\.05\\.05\\.85\\.92\\.6\\.1\\.03\\.03\\.03\\.3\\.5\\.75\\.95\\.95\\.65\\.35\\.05\\.03\\.05\\.3\\.5\\.75\\.95\\.95\\.6\\.25\\.05\\.03\\.15\\.15\\.03\\}
\sig{sg}{2}{.95\\.4\\.05\\.03\\.5\\.95\\.75\\.2\\.12\\.6\\.95\\.6\\.1\\.05\\.5\\.9\\.97\\.97\\.55\\.1\\.05\\.6\\.95\\.75\\.3\\.03\\.35\\.35\\.35\\.1\\.05\\.2\\.45\\.7\\.9\\.97\\.8\\.55\\.25\\.05\\.03\\.25\\.5\\.8\\.97\\.9\\.75\\.65\\.62\\.85\\.6\\}
\end{axis}
\begin{axis}[colb=421]
\sig{sb}{2}{.5\\.52\\.5\\.49\\.5\\.5\\.5\\.52\\.5\\.51\\.52\\.5\\.53\\.5\\.2\\.2\\.21\\.22\\.22\\.23\\.24\\.24\\.24\\.25\\.24\\.25\\.26\\.26\\.27\\.27\\.27\\.27\\.95\\.95\\.93\\.93\\.92\\.9\\.91\\.91\\.92\\.9\\.91\\.9\\.9\\.91\\.9\\.92\\.9\\.91\\.91\\}
\sig{sg}{2}{.12\\.13\\.12\\.13\\.12\\.13\\.13\\.14\\.14\\.14\\.15\\.16\\.16\\.17\\.75\\.78\\.79\\.79\\.78\\.78\\.78\\.77\\.78\\.77\\.78\\.78\\.79\\.78\\.77\\.78\\.79\\.79\\.71\\.7\\.69\\.7\\.66\\.69\\.69\\.68\\.69\\.66\\.69\\.68\\.7\\.69\\.69\\.68\\.72\\.68\\.68\\}
\end{axis}
\begin{axis}[colb=490,xlabel=Sommets]
\sig{sb}{2}{.68\\.55\\.5\\.55\\.62\\.55\\.7\\.55\\.45\\.55\\.85\\.7\\.8\\.02\\.55\\.6\\.55\\.6\\.55\\.45\\.55\\.4\\.65\\.5\\.7\\.6\\.65\\.5\\.18\\.7\\.6\\.65\\.5\\.55\\.5\\.55\\.45\\.65\\.6\\.7\\.55\\.75\\.6\\.15\\.85\\.5\\.75\\.5\\.6\\.35\\.35\\}
\sig{sg}{2}{.45\\.6\\.75\\.55\\.5\\.6\\.4\\.55\\.55\\.7\\.65\\.5\\.6\\.5\\.65\\.55\\.7\\.35\\.5\\.55\\.3\\.65\\.7\\.55\\.45\\.6\\.35\\.65\\.5\\.6\\.55\\.4\\.65\\.55\\.6\\.45\\.4\\.65\\.7\\.5\\.6\\.9\\.8\\.4\\.55\\.85\\.6\\.3\\.1\\.7\\.7\\}
\end{axis}
\begin{axis}[colb=580]
\addplot[sb] coordinates {(0,.92)(33,.92)(34,.9)(35,.6)(36,.52)(38,.5)(64,.5)(65,.25)(66,.09)(68,.08)(100,.08)};
\addplot[sg] coordinates {(0,.65)(33,.65)(34,.6)(35,.3)(36,.18)(38,.14)(62,.14)(64,.16)(65,.4)(66,.62)(68,.65)(100,.65)};
\end{axis}
\begin{axis}[colb=649,xlabel=Sommets]
\addplot[sb] coordinates {(0,.5)(33,.5)(34,.52)(36,.62)(38,.7)(40,.75)(42,.77)(44,.76)(46,.71)(48,.62)(50,.5)(52,.36)(54,.24)(56,.16)(58,.12)(60,.14)(62,.2)(64,.33)(66,.5)(100,.5)};
\addplot[sg] coordinates {(0,.5)(33,.5)(34,.42)(36,.29)(38,.21)(40,.24)(42,.4)(44,.62)(46,.82)(48,.93)(50,.96)(52,.88)(54,.68)(56,.42)(58,.22)(60,.15)(62,.2)(64,.35)(66,.5)(100,.5)};
\end{axis}
\begin{axis}[colb=736]
\sig{sb}{2}{.7\\.75\\.65\\.6\\.72\\.75\\.75\\.8\\.72\\.72\\.7\\.68\\.65\\.6\\.55\\.15\\.54\\.54\\.54\\.54\\.54\\.54\\.75\\.72\\.7\\.7\\.71\\.7\\.7\\.71\\.73\\.7\\.7\\.7\\.72\\.68\\.66\\.68\\.65\\.66\\.68\\.65\\.66\\.68\\.66\\.65\\.66\\.47\\.66\\.64\\.67\\}
\sig{sg}{2}{.58\\.65\\.6\\.65\\.65\\.62\\.58\\.32\\.55\\.6\\.55\\.6\\.55\\.65\\.58\\.52\\.62\\.62\\.62\\.62\\.62\\.62\\.72\\.7\\.7\\.7\\.71\\.69\\.7\\.72\\.73\\.69\\.7\\.7\\.82\\.7\\.7\\.82\\.7\\.78\\.68\\.78\\.68\\.78\\.68\\.78\\.65\\.97\\.7\\.75\\.7\\}
\end{axis}
\begin{axis}[colb=805,xlabel=Sommets]
\sig{sb}{2}{.6\\.62\\.5\\.55\\.7\\.58\\.56\\.87\\.65\\.6\\.6\\.55\\.55\\.55\\.5\\.5\\.5\\.5\\.5\\.5\\.5\\.62\\.6\\.52\\.55\\.45\\.55\\.48\\.55\\.48\\.3\\.48\\.48\\.46\\.35\\.25\\.45\\.42\\.65\\.6\\.7\\.58\\.68\\.58\\.68\\.6\\.65\\.98\\.7\\.68\\.6\\}
\sig{sg}{2}{.55\\.6\\.58\\.58\\.6\\.58\\.6\\.42\\.55\\.5\\.58\\.52\\.55\\.55\\.52\\.56\\.56\\.56\\.56\\.56\\.56\\.55\\.62\\.52\\.68\\.35\\.65\\.68\\.7\\.55\\.88\\.72\\.75\\.72\\.02\\.42\\.42\\.62\\.6\\.6\\.6\\.6\\.6\\.6\\.6\\.55\\.6\\.55\\.58\\.58\\.58\\}
\end{axis}
\begin{axis}[colb=893]
\sig{sb}{2}{.65\\.75\\.35\\.15\\.45\\.85\\.7\\.45\\.5\\.45\\.35\\.45\\.35\\.55\\.55\\.65\\.35\\.3\\.2\\.55\\.8\\.75\\.4\\.35\\.6\\.45\\.55\\.35\\.5\\.35\\.55\\.5\\.8\\.45\\.55\\.85\\.55\\.35\\.1\\.4\\.7\\.5\\.4\\.85\\.2\\.75\\.8\\.35\\.5\\.75\\.4\\}
\sig{sg}{2}{.75\\.55\\.7\\.3\\.25\\.3\\.25\\.5\\.55\\.8\\.45\\.5\\.95\\.6\\.45\\.4\\.75\\.35\\.35\\.6\\.65\\.85\\.45\\.3\\.7\\.55\\.8\\.55\\.35\\.15\\.45\\.65\\.8\\.55\\.6\\.5\\.45\\.7\\.85\\.5\\.65\\.6\\.85\\.8\\.55\\.75\\.5\\.3\\.35\\.55\\.9\\}
\end{axis}
\begin{axis}[colb=962,xlabel=Sommets]
\sig{sb}{2}{.4\\.1\\.15\\.4\\.7\\.5\\.85\\.5\\.45\\.65\\.35\\.3\\.35\\.2\\.95\\.6\\.55\\.4\\.35\\.45\\.65\\.55\\.7\\.5\\.6\\.65\\.35\\.55\\.2\\.4\\.75\\.9\\.7\\.55\\.45\\.2\\.5\\.6\\.55\\.3\\.45\\.55\\.35\\.45\\.5\\.55\\.35\\.65\\.75\\.1\\.4\\}
\sig{sg}{2}{.35\\.55\\.6\\.45\\.55\\.85\\.75\\.5\\.25\\.05\\.55\\.95\\.8\\.4\\.6\\.5\\.65\\.35\\.55\\.05\\.45\\.7\\.9\\.55\\.6\\.35\\.25\\.7\\.55\\.7\\.5\\.4\\.55\\.25\\.5\\.4\\.6\\.55\\.4\\.45\\.5\\.35\\.35\\.55\\.6\\.8\\.45\\.25\\.4\\.35\\.35\\}
\end{axis}

% ---- column c
\begin{axis}[colc=168,axis background/.style={fill=bgA}]
\cells{0 0 1\\1 0 1\\2 1 1\\3 1 1\\4 2 1\\5 2 1\\6 3 1\\7 3 1\\8 4 1\\9 4 1\\10 5 .97\\11 5 .97\\12 6 .97\\13 6 .97\\14 7 .96\\15 7 .96\\16 8 .96\\17 8 .96\\18 9 .95\\19 9 .95\\20 10 .93\\21 10 .93\\22 11 .93\\23 11 .93\\24 12 .9\\}
\end{axis}
\begin{axis}[colc=327,axis background/.style={fill=bgB}]
\cells{0 0 .15\\1 0 .2\\3 0 .12\\4 0 .08\\6 0 1\\7 0 .82\\8 0 .08\\9 0 .42\\10 0 .1\\11 0 .2\\12 0 .05\\13 0 .25\\14 0 .12\\0 1 .85\\1 1 .85\\7 1 .18\\8 1 .1\\11 1 .27\\0 2 .68\\1 2 .33\\3 2 .22\\10 2 .78\\11 2 .5\\12 2 .5\\13 2 .5\\0 3 .37\\1 3 .33\\2 3 .36\\3 3 .3\\4 3 .08\\5 3 .12\\6 3 .12\\7 3 .12\\8 3 .12\\9 3 .12\\11 3 .3\\12 3 .25\\13 3 .25\\14 3 .15\\15 3 .12\\16 3 .12\\17 3 .12\\0 4 .2\\1 4 .33\\2 4 .38\\3 4 .33\\10 4 .38\\11 4 .3\\14 4 .38\\17 4 .5\\0 5 .2\\1 5 .3\\2 5 .55\\4 5 .2\\5 5 .22\\10 5 .15\\12 5 .45\\17 5 .25\\2 6 .15\\3 6 .15\\4 6 .38\\5 6 .38\\11 6 .15\\12 6 .12\\13 6 .25\\15 6 .2\\16 6 .15\\17 6 .2\\20 6 .33\\21 6 .3\\3 7 .38\\4 7 .25\\5 7 .25\\7 7 .1\\9 7 .2\\13 7 .2\\14 7 .33\\16 7 .38\\20 7 .42\\21 7 .33\\23 7 .12\\3 8 .62\\6 8 .2\\7 8 .25\\8 8 .27\\14 8 .33\\15 8 .33\\17 8 .12\\7 9 .2\\8 9 .2\\9 9 .18\\14 9 .3\\15 9 .3\\16 9 .2\\17 9 .42\\2 10 .3\\8 10 .15\\9 10 .12\\14 10 .15\\15 10 .25\\16 10 .12\\17 10 .12\\18 10 .18\\19 10 .2\\2 11 .3\\4 11 .3\\18 11 .25\\19 11 .25\\21 11 .18\\23 11 .2\\15 12 .25\\16 12 .22\\18 12 .2\\20 12 .3\\22 12 .2\\23 12 .28\\24 12 .2\\4 13 .15\\5 13 .35\\19 13 .15\\20 13 .3\\22 13 .2\\23 13 .15\\24 13 .22\\4 14 .2\\5 14 .47\\20 14 .33\\21 14 .15\\22 14 .4\\24 14 .15\\22 15 .42\\23 15 .2\\4 16 .25\\5 16 .15\\21 16 .33\\22 16 .35\\23 16 .28\\4 17 .15\\22 17 .2\\23 17 .12\\8 18 .3\\13 18 .1\\15 18 .15\\8 19 .33\\9 19 .27\\13 19 .2\\14 19 .1\\15 19 .18\\16 19 .18\\8 20 .35\\9 20 .25\\13 20 .15\\11 21 .1\\13 21 .15\\19 22 .28\\8 23 .1\\9 23 .15\\19 23 .5\\}
\end{axis}
\begin{axis}[colc=490,axis background/.style={fill=bgC}]
\cells{0 0 1\\1 0 .72\\0 1 .15\\1 1 .3\\0 3 .12\\1 4 .07\\0 5 .06\\2 9 .1\\3 8 .08\\4 8 .08\\4 7 .08\\9 15 .1\\3 16 .07\\6 22 .06\\12 19 .07\\16 9 .08\\16 10 .08\\19 10 .07\\21 6 .07\\21 19 .07\\5 13 .06\\2 13 .06\\2 12 .06\\8 11 .06\\9 10 .06\\14 14 .06\\15 16 .06\\23 13 .05\\6 12 .06\\1 18 .01\\0 20 .01\\2 22 .01\\6 5 .01\\10 3 .01\\13 5 .01\\17 3 .01\\22 4 .01\\20 2 .01\\24 8 .01\\18 7 .06\\13 6 .05\\10 7 .05\\11 5 .06\\8 3 .05\\6 2 .05\\}
\end{axis}
\begin{axis}[colc=650,axis background/.style={fill=bgD}]
\cells{0 0 1\\1 0 .42\\0 1 .15\\1 1 .15\\2 1 .05\\0 3 .1\\1 2 .05\\2 2 .065\\3 2 .065\\3 3 .08\\2 3 .05\\3 4 .08\\4 4 .05\\4 5 .08\\3 5 .055\\4 6 .08\\5 6 .08\\5 7 .095\\6 7 .055\\4 7 .05\\6 8 .095\\5 8 .08\\6 9 .095\\7 9 .055\\5 9 .05\\7 10 .1\\6 10 .08\\7 11 .1\\8 11 .065\\8 12 .095\\7 12 .08\\9 13 .095\\8 13 .08\\9 14 .1\\10 14 .055\\10 15 .1\\9 15 .065\\11 16 .095\\10 16 .08\\11 17 .095\\12 17 .055\\12 18 .095\\11 18 .055\\13 19 .095\\12 19 .08\\13 20 .095\\14 20 .055\\14 21 .1\\13 21 .065\\15 22 .1\\14 22 .065\\15 23 .08\\16 23 .055\\0 5 .05\\0 8 .04\\0 11 .04\\24 3 .04\\24 14 .04\\23 2 .04\\24 20 .04\\}
\end{axis}
\begin{axis}[colc=806,axis background/.style={fill=bgE}]
\cells{0 0 .2\\1 0 1\\2 0 .85\\3 0 .12\\0 1 .72\\1 1 .1\\2 1 .15\\3 1 .2\\4 1 .38\\7 1 .1\\10 1 .12\\11 1 .15\\13 1 .4\\14 1 .15\\17 1 .12\\18 1 .25\\20 1 .08\\0 2 .33\\2 2 .12\\3 2 .12\\4 2 .35\\6 2 .3\\7 2 .12\\14 2 .2\\20 2 .22\\3 3 .25\\4 3 .27\\5 3 .42\\6 3 .15\\7 3 .2\\9 3 .27\\10 3 .1\\12 3 .1\\3 4 .15\\4 4 .2\\5 4 .2\\6 4 .3\\7 4 .1\\10 4 .38\\5 5 .25\\6 5 .25\\7 5 .25\\8 5 .47\\9 5 .15\\15 5 .15\\17 5 .15\\18 5 .15\\23 5 .15\\24 5 .15\\5 6 .25\\9 6 .25\\11 6 .12\\12 6 .12\\13 6 .1\\15 6 .12\\17 6 .15\\23 6 .12\\6 7 .2\\7 7 .2\\9 7 .25\\10 7 .15\\11 7 .15\\19 7 .2\\24 7 .28\\3 8 .08\\4 8 .08\\5 8 .08\\10 8 .22\\15 8 .1\\16 8 .1\\23 8 .15\\7 9 .1\\8 9 .12\\9 9 .12\\13 9 .18\\20 9 .15\\22 9 .18\\7 10 .12\\9 10 .15\\11 10 .08\\20 10 .22\\21 10 .2\\7 11 .15\\10 11 .12\\11 11 .12\\12 11 .15\\22 11 .15\\10 12 .15\\11 12 .15\\12 12 .12\\13 12 .1\\23 12 .1\\11 13 .1\\13 13 .12\\16 13 .08\\17 13 .1\\14 14 .1\\15 14 .1\\17 14 .08\\20 14 .1\\21 14 .1\\18 15 .12\\19 15 .1\\24 15 .1\\0 16 .1\\16 16 .1\\17 16 .1\\20 16 .15\\22 16 .12\\24 16 .15\\13 17 .12\\17 17 .15\\18 17 .12\\23 17 .15\\9 18 .05\\13 18 .1\\17 18 .15\\14 19 .12\\16 19 .08\\19 19 .1\\5 20 .05\\15 20 .08\\18 20 .1\\16 21 .1\\20 22 .15\\16 23 .12\\17 23 .12\\22 23 .15\\1 15 .01\\2 12 .01\\3 10 .01\\5 14 .01\\4 18 .01\\8 21 .01\\1 20 .01\\3 22 .01\\11 20 .01\\14 22 .01\\12 16 .01\\8 15 .01\\10 17 .01\\4 6 .01\\1 5 .01\\2 7 .01\\}
\end{axis}
\begin{axis}[colc=962,axis background/.style={fill=bgF}]
\cells{2 23 .3\\3 23 .33\\4 23 .45\\5 23 .15\\6 23 .2\\7 23 .3\\9 23 .15\\11 23 .33\\18 23 .25\\19 23 .25\\2 22 .55\\7 22 .12\\10 22 .25\\13 22 .58\\15 22 .15\\24 22 .55\\1 21 .12\\2 21 .2\\3 21 .2\\4 21 .2\\13 21 .25\\14 21 .27\\15 21 .15\\20 21 .2\\21 21 .4\\0 20 .2\\8 20 .27\\9 20 .3\\10 20 .2\\12 20 .2\\23 20 .4\\1 19 .33\\3 19 .15\\5 19 .15\\8 19 .3\\9 19 .33\\16 19 .5\\21 19 .3\\0 18 .3\\3 18 .15\\7 18 .3\\8 18 .8\\10 18 .4\\12 18 .9\\15 18 .1\\21 18 .27\\5 17 .22\\8 17 .38\\12 17 .2\\13 17 .2\\15 17 .25\\18 17 .3\\19 17 .72\\22 17 .25\\0 16 .37\\5 16 .2\\7 16 .12\\8 16 .33\\18 16 .1\\24 16 .1\\1 15 .25\\2 15 .15\\5 15 .7\\7 15 .27\\10 15 .37\\13 15 .6\\15 15 .25\\17 15 .3\\23 15 .25\\0 14 .2\\3 14 .5\\5 14 .15\\8 14 .33\\11 14 .2\\16 14 .25\\22 14 .2\\0 13 .65\\4 13 .58\\7 13 .58\\8 13 .37\\12 13 .58\\14 13 .15\\16 13 .3\\17 13 .5\\19 13 .25\\20 13 .25\\0 12 1\\1 12 .35\\5 12 .2\\6 12 .15\\12 12 .25\\15 12 .42\\17 12 .6\\18 12 .42\\21 12 .2\\0 11 .2\\1 11 .22\\2 11 .58\\3 11 .3\\5 11 .42\\9 11 .25\\10 11 .5\\12 11 .2\\13 11 .3\\14 11 .3\\18 11 .42\\22 11 .45\\0 10 .3\\1 10 .38\\4 10 .2\\5 10 .27\\6 10 .75\\12 10 .25\\13 10 .3\\18 10 .42\\23 10 .55\\0 9 .6\\1 9 .38\\5 9 .25\\10 9 .3\\14 9 .27\\18 9 .37\\21 9 .2\\2 8 1\\3 8 .9\\6 8 .35\\7 8 .5\\9 8 .42\\10 8 .15\\19 8 .25\\20 8 .25\\24 8 .3\\2 7 .15\\3 7 .4\\4 7 .42\\8 7 .35\\9 7 .35\\10 7 .5\\11 7 .5\\13 7 .38\\14 7 .45\\0 6 .65\\1 6 .72\\4 6 .25\\5 6 .12\\7 6 .35\\11 6 .5\\13 6 .42\\15 6 .5\\16 6 .3\\19 6 .33\\20 6 .25\\1 5 .52\\5 5 .72\\7 5 .25\\10 5 .2\\11 5 .3\\12 5 .3\\19 5 .3\\1 4 .8\\2 4 .6\\3 4 .58\\4 4 .3\\6 4 .48\\14 4 .58\\22 4 .25\\24 4 .27\\0 3 .4\\1 3 .15\\2 3 .55\\5 3 .72\\6 3 .72\\7 3 .55\\8 3 .4\\9 3 .38\\11 3 .27\\12 3 .2\\13 3 .2\\17 3 .33\\19 3 .38\\21 3 .25\\22 3 .25\\1 2 .55\\3 2 .27\\4 2 .38\\5 2 .2\\6 2 .72\\9 2 .37\\14 2 .22\\15 2 .12\\2 1 .4\\4 1 .25\\5 1 .37\\6 1 .2\\7 1 .62\\8 1 .3\\9 1 .22\\19 1 .15\\20 1 .2\\22 1 .42\\23 1 .3\\0 0 .12\\1 0 .15\\3 0 .2\\9 0 .2\\15 0 .25\\16 0 .25\\0 23 .03\\1 23 .03\\8 23 .03\\14 23 .03\\16 21 .03\\10 21 .03\\7 20 .03\\14 20 .03\\19 19 .03\\6 18 .03\\18 18 .03\\24 18 .03\\3 16 .03\\11 16 .03\\20 15 .03\\9 14 .03\\24 14 .03\\6 13 .03\\23 13 .03\\9 12 .03\\23 11 .03\\7 10 .03\\15 10 .03\\21 10 .03\\3 9 .03\\8 9 .03\\16 9 .03\\5 8 .03\\14 8 .03\\22 7 .03\\2 5 .03\\16 5 .03\\22 5 .03\\9 4 .03\\17 4 .03\\4 3 .03\\15 3 .03\\10 2 .03\\18 2 .03\\11 1 .03\\15 1 .03\\6 0 .03\\12 0 .03\\20 0 .03\\}
\end{axis}

% ---- column d
\begin{axis}[cold=168]
\sig{sq}{2}{.86\\.859\\.857\\.853\\.849\\.843\\.835\\.826\\.815\\.803\\.79\\.775\\.76\\.745\\.73\\.71\\.69\\.67\\.65\\.63\\.61\\.585\\.56\\.537\\.515\\.492\\.47\\.445\\.42\\.397\\.375\\.355\\.335\\.315\\.295\\.277\\.26\\.245\\.23\\.217\\.205\\.195\\.185\\.177\\.17\\.165\\.16\\.157\\.155\\}
\addplot[sp] coordinates {(96,.155)(97,.82)};
\end{axis}
\begin{axis}[cold=327]
\sig{sq,mark size=.8pt}{1}{.91\\.87\\.87\\.82\\.82\\.755\\.755\\.755\\.755\\.755\\.74\\.74\\.74\\.71\\.71\\.71\\.71\\.68\\.68\\.655\\.655\\.655\\.61\\.61\\.595\\.595\\.595\\.595\\.595\\.545\\.52\\.52\\.52\\.52\\.49\\.49\\.49\\.49\\.49\\.48\\.48\\.48\\.48\\.46\\.46\\.45\\.45\\.45\\.45\\.457\\.457\\.46\\.457\\.40\\.40\\.40\\.40\\.40\\.38\\.38\\.38\\.33\\.33\\.33\\.33\\.33\\.33\\.33\\.33\\.33\\.30\\.30\\.30\\.30\\.35\\.29\\.26\\.26\\.26\\.26\\.186\\.186\\.186\\.186\\.12\\.12\\.12\\.12\\.07\\.07\\.07\\.07\\.036\\.036\\.036\\.036\\.238\\.02\\}
\end{axis}
\begin{axis}[cold=490]
\sig{sq}{2}{.925\\.29\\.275\\.265\\.255\\.25\\.24\\.23\\.225\\.215\\.21\\.205\\.2\\.195\\.19\\.185\\.18\\.175\\.172\\.17\\.16\\.155\\.152\\.148\\.143\\.14\\.138\\.135\\.13\\.127\\.125\\.115\\.108\\.102\\.098\\.095\\.09\\.087\\.08\\.073\\.07\\.062\\.055\\.05\\.045\\.04\\.03\\.022\\.012\\0\\}
\end{axis}
\begin{axis}[cold=650]
\sig{sq}{2}{.9\\.335\\.33\\.32\\.305\\.285\\.26\\.235\\.205\\.18\\.165\\.163\\.165\\.163\\.165\\.163\\.175\\.165\\.165\\.175\\.165\\.165\\.18\\.168\\.165\\.163\\.165\\.163\\.165\\.165\\.163\\.165\\.165\\.163\\.165\\.17\\.165\\.163\\.17\\.165\\.165\\.163\\.165\\.165\\.15\\.135\\.12\\.11\\.105\\.176\\}
\end{axis}
\begin{axis}[cold=807]
\sig{sp}{1}{.96\\.92\\.863\\.838\\.82\\.81\\.778\\.76\\.742\\.733\\.727\\.727\\.72\\.715\\.7\\.688\\.68\\.68\\.68\\.68\\.678\\.673\\.67\\.665\\.66\\.655\\.65\\.645\\.63\\.58\\.57\\.567\\.562\\.567\\.562\\.567\\.605\\.567\\.56\\.57\\.567\\.565\\.57\\.567\\.57\\.565\\.57\\.58\\.565\\.59\\.57\\.62\\.57\\.585\\.57\\.58\\.57\\.57\\.565\\.565\\.57\\.575\\.57\\.57\\.565\\.565\\.523\\.5\\.49\\.485\\.48\\.48\\.475\\.47\\.47\\.465\\.48\\.46\\.47\\.455\\.475\\.45\\.46\\.44\\.425\\.42\\.435\\.41\\.415\\.36\\.32\\.34\\.327\\.283\\.216\\.22\\.173\\.057\\}
\end{axis}
\begin{axis}[cold=963,xmax=80,xtick={0,10,...,80}]
\sig{sp}{1}{.935\\.925\\.89\\.875\\.86\\.845\\.835\\.82\\.805\\.795\\.785\\.765\\.76\\.745\\.735\\.73\\.715\\.71\\.695\\.67\\.665\\.655\\.645\\.64\\.635\\.615\\.595\\.6\\.585\\.59\\.56\\.55\\.55\\.54\\.535\\.51\\.5\\.49\\.485\\.49\\.46\\.45\\.455\\.43\\.435\\.4\\.395\\.39\\.38\\.375\\.355\\.34\\.335\\.33\\.325\\.3\\.28\\.27\\.255\\.24\\.23\\.22\\.205\\.195\\.185\\.17\\.16\\.145\\.14\\.12\\.105\\.095\\.09\\.075\\.065\\.05\\.04\\.03\\.02\\.01\\0\\}
\end{axis}

% ---- column e
\begin{axis}[cole=168]
\sig{sp}{1}{.923\\.922\\.92\\.915\\.91\\.902\\.892\\.882\\.869\\.854\\.838\\.819\\.8\\.781\\.76\\.739\\.718\\.693\\.668\\.643\\.618\\.597\\.571\\.545\\.518\\.492\\.465\\.439\\.413\\.392\\.367\\.342\\.317\\.292\\.271\\.25\\.229\\.21\\.191\\.172\\.156\\.141\\.128\\.118\\.108\\.1\\.095\\.09\\.088\\.087\\}
\end{axis}
\begin{axis}[cole=327]
\sig{sp}{1}{.935\\.93\\.92\\.91\\.895\\.88\\.845\\.835\\.81\\.79\\.775\\.76\\.73\\.735\\.70\\.65\\.70\\.655\\.67\\.615\\.625\\.607\\.58\\.587\\.568\\.555\\.566\\.548\\.535\\.545\\.504\\.514\\.506\\.483\\.457\\.444\\.42\\.41\\.38\\.354\\.344\\.307\\.297\\.28\\.253\\.255\\.225\\.245\\.212\\.093\\}
\end{axis}
\begin{axis}[cole=490]
\sig{sp}{1}{.99\\.285\\.085\\.153\\.135\\.127\\.13\\.138\\.169\\.148\\.153\\.14\\.166\\.148\\.145\\.153\\.148\\.132\\.132\\.122\\.112\\.117\\.106\\.112\\.096\\.12\\.109\\.101\\.094\\.122\\.109\\.117\\.104\\.094\\.101\\.101\\.086\\.109\\.12\\.086\\.101\\.099\\.109\\.12\\.104\\.096\\.094\\.101\\.096\\.091\\}
\end{axis}
\begin{axis}[cole=650]
\sig{sp}{1}{.905\\.30\\.147\\.2\\.165\\.15\\.165\\.15\\.147\\.152\\.142\\.14\\.145\\.137\\.137\\.134\\.13\\.13\\.13\\.127\\.127\\.125\\.121\\.121\\.121\\.116\\.116\\.114\\.112\\.111\\.109\\.109\\.106\\.103\\.103\\.101\\.101\\.098\\.098\\.098\\.096\\.093\\.093\\.093\\.09\\.09\\.09\\.088\\.088\\.088\\}
\end{axis}
\begin{axis}[cole=807]
\sig{sp}{1}{.98\\.88\\.806\\.734\\.692\\.667\\.628\\.589\\.543\\.509\\.496\\.473\\.455\\.44\\.416\\.432\\.421\\.38\\.393\\.393\\.351\\.339\\.339\\.333\\.32\\.297\\.289\\.274\\.233\\.238\\.227\\.204\\.204\\.178\\.16\\.196\\.186\\.155\\.163\\.181\\.178\\.165\\.15\\.121\\.075\\.062\\.09\\.075\\.057\\.067\\}
\end{axis}
\begin{axis}[cole=963]
\sig{sp}{1}{0\\.5\\.51\\.85\\.717\\.562\\.887\\.807\\.845\\.61\\.706\\.76\\.724\\.954\\.353\\.773\\.312\\.518\\.652\\.492\\.325\\.384\\.495\\.4\\.477\\.322\\.433\\.387\\.43\\.42\\.227\\.325\\.224\\.314\\.322\\.2\\.273\\.211\\.211\\.309\\.397\\.278\\.27\\.322\\.245\\.229\\.466\\.013\\.183\\.224\\}
\end{axis}

% ---- colour strips beside d and e
\begin{axis}[bar={913}{168}]
\colbar{\smoothbar}
\end{axis}
\begin{axis}[bar={1134}{168}]
\colbar{\smoothbar}
\end{axis}
\begin{axis}[bar={913}{327}]
\colbar{(.5,0)[1](.5,.03)[.9](.5,.08)[.82](.5,.13)[.75](.5,.2)[.68](.5,.27)[.63](.5,.4)[.55](.5,.55)[.47](.5,.65)[.38](.5,.77)[.3](.5,.88)[.2](.5,.93)[.12](.5,.98)[.05](.5,1)[.2]}
\end{axis}
\begin{axis}[bar={1134}{327}]
\colbar{\smoothbar}
\end{axis}
\begin{axis}[bar={913}{490}]
\colbar{(.5,0)[1](.5,.015)[.85](.5,.03)[.3](.5,.1)[.3](.5,.2)[.25](.5,.3)[.18](.5,.5)[.15](.5,.7)[.12](.5,.85)[.08](.5,1)[.03]}
\end{axis}
\begin{axis}[bar={1134}{490}]
\colbar{(.5,0)[1](.5,.015)[.9](.5,.03)[.25](.5,.05)[.15](.5,.3)[.12](.5,.6)[.08](.5,1)[.03]}
\end{axis}
\begin{axis}[bar={913}{650}]
\colbar{(.5,0)[1](.5,.015)[.5](.5,.03)[.12](.5,.3)[.1](.5,.5)[.05](.5,1)[.02]}
\end{axis}
\begin{axis}[bar={1134}{650}]
\colbar{(.5,0)[1](.5,.02)[.9](.5,.04)[.25](.5,.06)[.13](.5,.35)[.1](.5,.6)[.05](.5,1)[.02]}
\end{axis}
\begin{axis}[bar={913}{807}]
\colbar{(.5,0)[.95](.5,.05)[.85](.5,.1)[.75](.5,.2)[.65](.5,.3)[.55](.5,.5)[.5](.5,.7)[.45](.5,.82)[.4](.5,.9)[.33](.5,.96)[.28](.5,1)[.15]}
\end{axis}
\begin{axis}[bar={1134}{807}]
\colbar{\smoothbar}
\end{axis}
\begin{axis}[bar={913}{963}]
\colbar{\smoothbar}
\end{axis}
\begin{axis}[bar={1134}{963}]
\colbar{(.5,0)[.05](.5,.03)[.55](.5,.06)[.65](.5,.09)[.85](.5,.12)[.6](.5,.15)[.9](.5,.18)[.7](.5,.21)[.88](.5,.24)[.7](.5,.27)[.78](.5,.3)[1](.5,.33)[.35](.5,.36)[.65](.5,.4)[.45](.5,.44)[.55](.5,.48)[.5](.5,.52)[.45](.5,.56)[.5](.5,.6)[.4](.5,.64)[.3](.5,.68)[.35](.5,.72)[.25](.5,.76)[.32](.5,.8)[.2](.5,.84)[.3](.5,.88)[.15](.5,.92)[.35](.5,.96)[.2](.5,1)[.25]}
\end{axis}
\end{tikzpicture}
\end{document}
